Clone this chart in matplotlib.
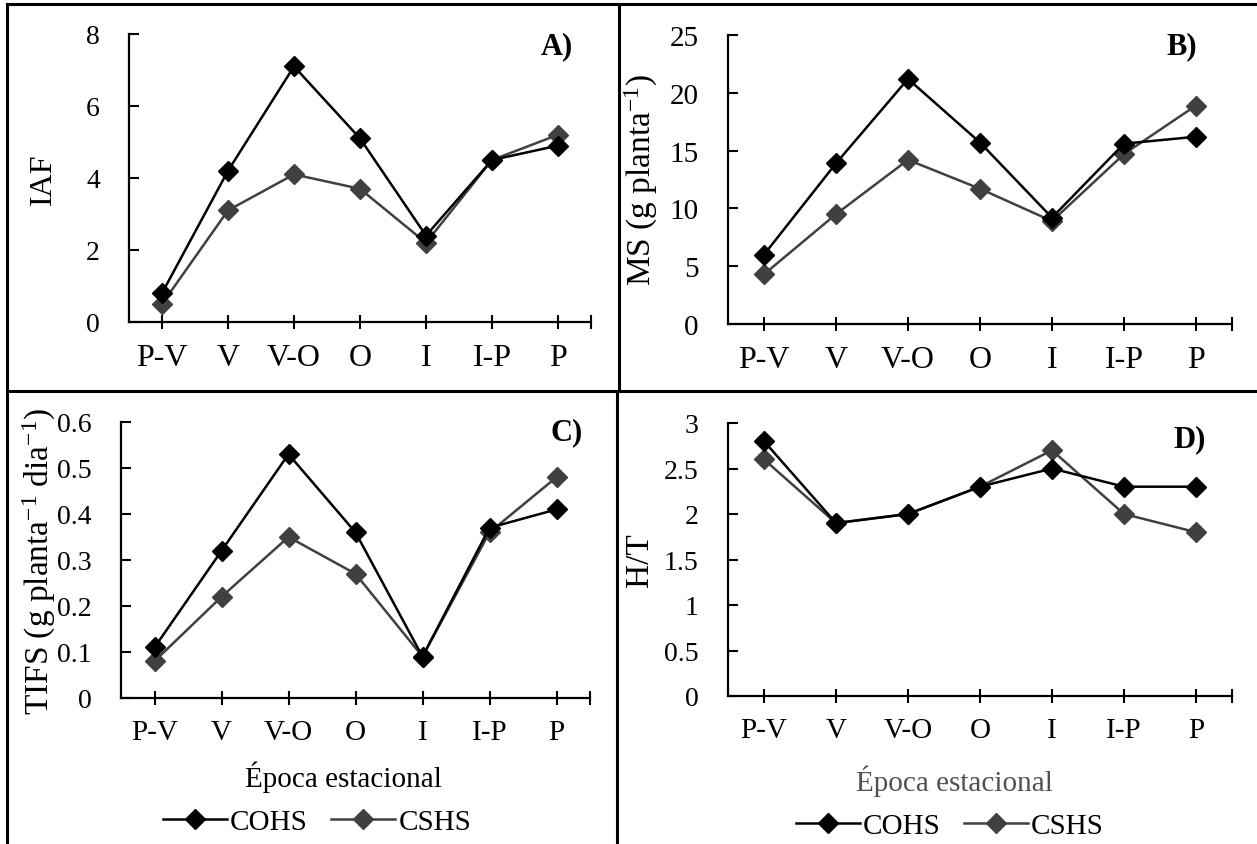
import matplotlib
matplotlib.use("Agg")
import matplotlib.pyplot as plt
from matplotlib.lines import Line2D
from matplotlib.ticker import FuncFormatter

plt.rcParams['font.family'] = ['Liberation Serif', 'DejaVu Serif']
plt.rcParams['mathtext.fontset'] = 'custom'
plt.rcParams['mathtext.rm'] = 'Liberation Serif'
plt.rcParams['mathtext.it'] = 'Liberation Serif:italic'

epocas = ["P-V", "V", "V-O", "O", "I", "I-P", "P"]

iaf_cohs = [0.8, 4.2, 7.1, 5.1, 2.4, 4.5, 4.9]
iaf_cshs = [0.5, 3.1, 4.1, 3.7, 2.2, 4.5, 5.2]

ms_cohs = [6.0, 13.9, 21.2, 15.7, 9.2, 15.6, 16.2]
ms_cshs = [4.3, 9.5, 14.2, 11.7, 8.9, 14.7, 18.9]

tifs_cohs = [0.11, 0.32, 0.53, 0.36, 0.09, 0.37, 0.41]
tifs_cshs = [0.08, 0.22, 0.35, 0.27, 0.09, 0.36, 0.48]

ht_cohs = [2.8, 1.9, 2.0, 2.3, 2.5, 2.3, 2.3]
ht_cshs = [2.6, 1.9, 2.0, 2.3, 2.7, 2.0, 1.8]

W, H = 1257, 845
fig = plt.figure(figsize=(W / 100, H / 100), dpi=100)


def px_axes(left, top, right, bottom):
    return fig.add_axes([left / W, 1 - bottom / H, (right - left) / W, (bottom - top) / H])


def gfmt(v, pos):
    return "%g" % round(v, 2)


def panel(ax, cohs, cshs, ymax, ystep, ylabel, ytick_size, xtick_size, ylabel_size):
    x = list(range(len(epocas)))
    ax.plot(x, cohs, color="black", lw=1.8, marker="D", ms=10, clip_on=False, zorder=4, label="COHS")
    ax.plot(x, cshs, color="#404040", lw=1.8, marker="D", ms=10, clip_on=False, zorder=3, label="CSHS")
    ax.set_xlim(-0.5, len(epocas) - 0.5)
    ax.set_ylim(0, ymax)
    ax.set_yticks([i * ystep for i in range(int(round(ymax / ystep)) + 1)])
    ax.yaxis.set_major_formatter(FuncFormatter(gfmt))
    ax.set_xticks(x)
    ax.set_xticklabels(epocas)
    ax.set_xticks([len(epocas) - 0.5], minor=True)
    for s in ["top", "right"]:
        ax.spines[s].set_visible(False)
    for s in ["left", "bottom"]:
        ax.spines[s].set_linewidth(1.6)
    ax.tick_params(axis="x", which="both", direction="inout", length=10, width=1.5,
                   labelsize=xtick_size, pad=10)
    ax.tick_params(axis="y", direction="in", length=7, width=1.5, labelsize=ytick_size, pad=21)
    ax.set_ylabel(ylabel, fontsize=ylabel_size, va="center")
    return ax


ax_a = px_axes(129, 35, 591, 323)
panel(ax_a, iaf_cohs, iaf_cshs, 8, 2, "IAF", 20, 23, 23)
ax_a.yaxis.set_label_coords(-0.186, 0.5)

ax_b = px_axes(728, 36, 1232, 325)
panel(ax_b, ms_cohs, ms_cshs, 25, 5, "MS (g planta$^{-1}$)", 21, 23, 24)
ax_b.yaxis.set_label_coords(-0.171, 0.5)

ax_c = px_axes(121, 423, 590, 699)
panel(ax_c, tifs_cohs, tifs_cshs, 0.6, 0.1, "TIFS (g planta$^{-1}$ dia$^{-1}$)", 20, 21, 24)
ax_c.yaxis.set_label_coords(-0.173, 0.5)

ax_d = px_axes(728, 424, 1232, 697)
panel(ax_d, ht_cohs, ht_cshs, 3, 0.5, "H/T", 20, 21, 24)
ax_d.yaxis.set_label_coords(-0.175, 0.5)

ax_c.set_xlabel("Época estacional", fontsize=21, va="center")
ax_c.xaxis.set_label_coords(0.475, -0.283)
ax_d.set_xlabel("Época estacional", fontsize=21, va="center", color="#505050")
ax_d.xaxis.set_label_coords(0.450, -0.308)

# panel letters
for lbl, (px, py) in zip(["A)", "B)", "C)", "D)"], [(557, 47), (1182, 47), (567, 433), (1190, 440)]):
    fig.text(px / W, 1 - py / H, lbl, fontsize=22, fontweight="bold", ha="center", va="center")

# legends under the bottom panels
for ax, (lx, ly) in [(ax_c, (317, 823)), (ax_d, (950, 827))]:
    ax.legend(loc="center", bbox_to_anchor=(lx / W, 1 - ly / H), bbox_transform=fig.transFigure,
              ncol=2, frameon=False, fontsize=21, handlelength=2.2, handletextpad=0.1,
              columnspacing=0.8, borderpad=0)

# table borders around the four panels
frame = fig.add_axes([0, 0, 1, 1], zorder=-1)
frame.set_xlim(0, W)
frame.set_ylim(H, 0)
frame.axis("off")
frame_lines = [((7, 5), (W, 5)), ((7, 392), (W, 392)), ((7, 5), (7, H)),
               ((619, 5), (619, 392)), ((617, 392), (617, H))]
for (x0, y0), (x1, y1) in frame_lines:
    frame.add_line(Line2D([x0, x1], [y0, y1], color="black", lw=2.2))

fig.savefig("out.png", dpi=100)
